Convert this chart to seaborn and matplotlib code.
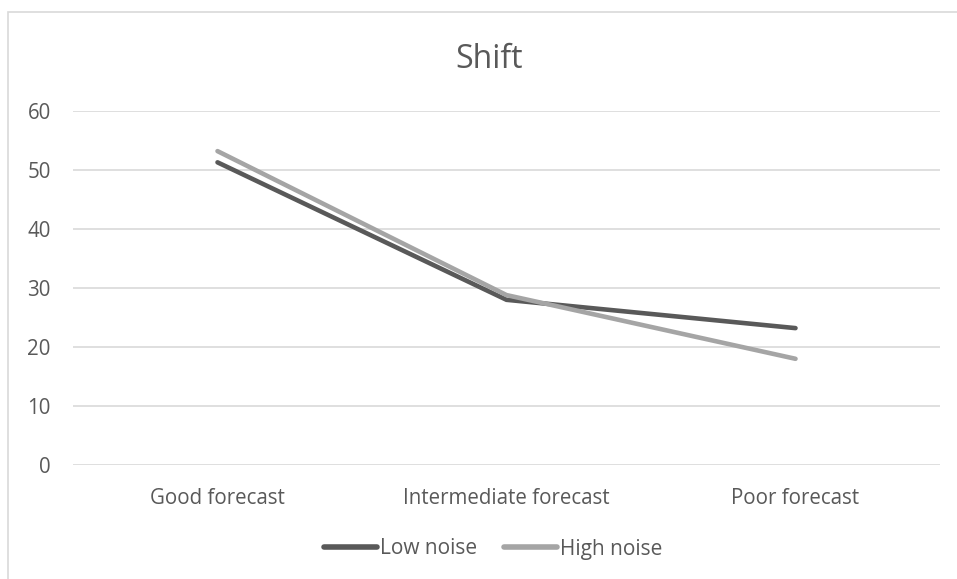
import matplotlib
matplotlib.use("Agg")
import matplotlib.pyplot as plt
from matplotlib.patches import Rectangle
from matplotlib.lines import Line2D
import seaborn as sns
import pandas as pd

categories = ["Good forecast", "Intermediate forecast", "Poor forecast"]
low_noise = [51.3, 28.0, 23.2]
high_noise = [53.2, 28.8, 18.0]
series_names = ["Low noise", "High noise"]
y_ticks = [0, 10, 20, 30, 40, 50, 60]

df = pd.DataFrame({
    "category": categories * 2,
    "value": low_noise + high_noise,
    "series": [series_names[0]] * 3 + [series_names[1]] * 3,
})

sns.set_theme(style="white")
plt.rcParams["font.family"] = ["Open Sans", "DejaVu Sans"]

text_color = "#595959"
grid_color = "#D9D9D9"
palette = {"Low noise": "#595959", "High noise": "#A5A5A5"}

fig = plt.figure(figsize=(9.57, 5.79), dpi=100)
ax = fig.add_axes([73 / 957, 1 - 465 / 579, (940 - 73) / 957, (465 - 111) / 579])

sns.lineplot(data=df, x="category", y="value", hue="series", palette=palette,
             linewidth=3.3, ax=ax, sort=False, legend=False)
for line in ax.lines:
    line.set_solid_capstyle("round")
    line.set_solid_joinstyle("miter")
    line.set_zorder(3)

ax.set_xlim(-0.5, 2.5)
ax.set_ylim(0, 60)
ax.set_yticks(y_ticks)
ax.set_yticklabels([str(t) for t in y_ticks])
ax.grid(axis="y", color=grid_color, linewidth=1.2)
ax.set_axisbelow(True)
for s in ax.spines.values():
    s.set_visible(False)
ax.tick_params(axis="both", length=0, labelsize=14.8, colors=text_color)
ax.tick_params(axis="y", pad=16)
ax.tick_params(axis="x", pad=16.5)
ax.set_xlabel("")
ax.set_ylabel("")

fig.text(489 / 957, 1 - 59 / 579, "Shift", ha="center", va="center",
         fontsize=23, color=text_color)

# Chart-area border (left and top edges fall inside the canvas)
fig.patches.append(Rectangle((8 / 957, -0.1), 1.2, 1 - 12 / 579 + 0.1,
                             transform=fig.transFigure, fill=False,
                             edgecolor=grid_color, linewidth=1.2))

handles = [Line2D([], [], color=palette[n], linewidth=4, solid_capstyle="round")
           for n in series_names]
fig.legend(handles, series_names, loc="center", bbox_to_anchor=(493 / 957, 1 - 549 / 579),
           ncol=2, frameon=False, fontsize=15, labelcolor=text_color,
           handlelength=2.55, handletextpad=0.12, columnspacing=1.3)

fig.savefig("out.png", dpi=100)
